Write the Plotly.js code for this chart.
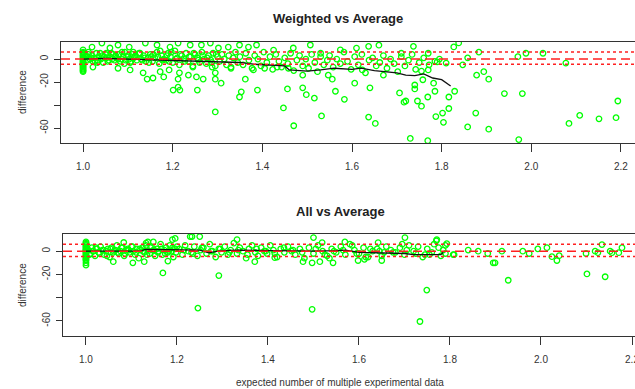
<!DOCTYPE html>
<html><head><meta charset="utf-8">
<script src="https://cdn.plot.ly/plotly-3.0.1.min.js"></script>
<style>html,body{margin:0;padding:0;background:#fff}#chart{width:635px;height:389px}</style>
</head><body><div id="chart"></div>
<script>
// ---------- Weighted vs Average ----------
const wColX = [1,1,1,1,1,1,1,1,1,1,1,1,1,1,1,1,1,1,1,1];
const wColY = [-11,-10,-9,-8,-7,-6,-5,-4.5,-4,-3,-2,-1,0,1,2,3,4,5,6,8];
const wBX = [1.005,1.01,1.012,1.015,1.02,1.022,1.025,1.03,1.033,1.035,1.04,1.043,1.045,1.05,1.053,1.055,1.06,1.063,1.065,1.07,1.073,1.075,1.08,1.083,1.085,1.09,1.093,1.095,1.1,1.103,1.105,1.11,1.113,1.115,1.12,1.125,1.13,1.135,1.14,1.145];
const wBY = [2,-1,4,0,3,-2,1,5,-1,2,0,3,-3,4,1,-2,2,5,0,-1,3,1,4,-2,0,2,6,-1,3,0,-3,4,1,2,-1,5,0,3,-2,1];
const wCX = [1.15,1.155,1.16,1.165,1.17,1.175,1.18,1.185,1.19,1.195,1.2,1.205,1.21,1.215,1.22,1.225,1.23,1.235,1.24,1.245,1.25,1.255,1.26,1.265,1.27,1.275,1.28,1.285,1.29,1.295,1.3,1.305,1.31,1.315,1.32,1.325,1.33,1.335,1.34,1.345];
const wCY = [4,-2,1,6,-4,3,0,-1,5,2,-3,7,1,-5,3,0,5,-2,2,-6,4,1,-3,6,0,-4,3,-1,5,-6,2,-2,4,0,-5,3,-7,1,6,-3];
const wDX = [1.35,1.357,1.363,1.37,1.377,1.383,1.39,1.397,1.403,1.41,1.417,1.423,1.43,1.437,1.443,1.45,1.457,1.463,1.47,1.477,1.483,1.49,1.497,1.503,1.51,1.517,1.523,1.53,1.537,1.545];
const wDY = [2,-5,5,-1,-8,3,0,-6,6,-3,2,-9,4,-2,-7,1,-4,5,-10,-1,3,-6,0,-8,4,-3,-11,2,-5,-1];
const wEX = [1.55,1.558,1.566,1.574,1.582,1.59,1.598,1.606,1.614,1.622,1.63,1.638,1.646,1.654,1.662,1.67,1.678,1.686,1.694,1.702,1.71,1.718,1.726,1.734,1.742,1.75,1.76,1.772,1.785,1.795];
const wEY = [3,-7,0,-4,6,-2,-9,2,-5,4,-12,-1,1,-6,-3,3,-8,0,-4,-11,2,-6,-1,4,-9,-3,1,-5,-2,0];
const wFX = [1.007,1.018,1.027,1.038,1.047,1.058,1.067,1.078,1.087,1.097,1.107,1.117,1.127,1.137,1.147,1.157,1.167,1.177,1.187,1.197,1.207,1.217,1.227,1.237,1.247,1.257,1.267,1.277,1.287,1.297,1.012,1.032,1.052,1.072,1.092,1.112,1.132,1.152,1.172,1.192];
const wFY = [3,1,-2,5,2,-1,4,0,6,2,-2,3,5,1,-3,4,2,-1,3,6,0,4,-2,2,5,-1,3,1,-3,4,6,-3,5,2,-4,6,-1,2,7,-2];
const wUpX = [1.02,1.042,1.06,1.078,1.103,1.139,1.165,1.194,1.212,1.239,1.264,1.284,1.302,1.324,1.349,1.369,1.387,1.425,1.469,1.507,1.53,1.574,1.61,1.637,1.66,1.737,1.827,1.838,1.883,1.71,1.77];
const wUpY = [10.4,13.9,9.6,12.2,10.4,13.9,12.2,10.4,13.9,12.2,12.2,13.9,9.6,10.4,12.2,10.4,12.2,7.8,9.6,12.2,5,8,9.5,11,12,11,10.5,14,6,5,5];
const wLoX = [1.022,1.078,1.105,1.134,1.156,1.143,1.18,1.172,1.192,1.212,1.235,1.245,1.268,1.288,1.295,1.308,1.33,1.362,1.38,1.405,1.433,1.458,1.49,1.215,1.295,1.253];
const wLoY = [-7,-8,-9.5,-12,-16.5,-17.4,-15.6,-11,-9.5,-17.4,-14,-7,-17.4,-7,-12,-21,-8,-17.5,-9.5,-8,-7,-8,-14,-12,-17.5,-15.6];
const wOutX = [1.295,1.47,1.447,1.456,1.49,1.498,1.516,1.201,1.212,1.216,1.255,1.349,1.353,1.389,1.532,1.563,1.583,1.606,1.637,1.652,1.64,1.716,1.72,1.706,1.73,1.74,1.74,1.746,1.755,1.758,1.755,1.769,1.769,1.785,1.782,1.787,1.802,1.804,1.816,1.816,1.829,1.858,1.876,1.905,1.905,1.972,1.94,1.98,2.084,2.108,2.151,2.189,2.193,1.878,1.894,1.847,1.79,1.81,2.077,1.97,1.988,2.026,1.858,1.77,1.556,1.547,1.67,1.623];
const wOutY = [-46,-58,-42.5,-26,-25,-31,-34,-27,-24.5,-27,-27,-33,-28.5,-27,-49.5,-28,-35,-21,-50.5,-56,-25,-37.5,-36.5,-29.5,-69,-26,-22.6,-36.5,-41,-18,-10.5,-33,-71,-28,-21,-50,-47,-55,-43,-33,-28,-59,-47,-61,-17.5,-70,-30,-30,-56,-49,-52,-51,-36.5,-14,-11,-5,-2.5,-3.5,-3.5,2,5,5,1,-9.5,-17.5,-14,-14,-9.5];
const wTrendX = [1.0,1.05,1.1,1.15,1.2,1.25,1.3,1.35,1.38,1.42,1.45,1.46,1.5,1.53,1.56,1.6,1.62,1.65,1.67,1.7,1.72,1.74,1.76,1.78,1.8,1.82];
const wTrendY = [0,0.5,0,-0.5,-1,-1.5,-2.5,-3,-4.5,-5,-6,-9.5,-10.5,-9.5,-8,-9,-8,-10,-11,-12,-14,-14.5,-13,-16.5,-18,-23.5];

// ---------- All vs Average ----------
const aColX = [1,1,1,1,1,1,1,1,1,1,1,1,1,1,1,1,1,1,1,1];
const aColY = [-12,-10,-8,-7,-6,-5,-4,-3,-2,-1,0,0.5,1,2,3,4,5,6,7,8];
const aBX = [1.005,1.01,1.013,1.017,1.02,1.024,1.028,1.032,1.036,1.04,1.044,1.048,1.052,1.056,1.06,1.064,1.068,1.072,1.076,1.08,1.084,1.088,1.092,1.096,1.1,1.104,1.108,1.112,1.116,1.12,1.124,1.128,1.132,1.136,1.14,1.144,1.148,1.152,1.156,1.16,1.164,1.168,1.172,1.176,1.18,1.184,1.188,1.192,1.196,1.2];
const aBY = [1,-2,3,0,-4,2,-1,4,1,-3,0,2,-5,3,-1,1,5,-2,0,3,-4,1,2,-1,4,0,-3,2,-6,1,3,-1,5,0,-2,4,1,-4,2,0,6,-3,1,3,-1,5,0,-5,2,4];
const aCX = [1.205,1.212,1.218,1.225,1.232,1.238,1.245,1.252,1.258,1.265,1.272,1.278,1.285,1.292,1.298,1.305,1.312,1.318,1.325,1.332,1.338,1.345,1.352,1.358,1.365,1.372,1.378,1.385,1.392,1.398,1.405,1.412,1.42,1.428,1.436,1.444,1.452,1.46,1.47,1.48];
const aCY = [2,-3,5,0,-1,4,-4,1,3,-2,6,0,-5,2,-1,4,-3,1,7,-2,3,0,-6,2,5,-1,-4,3,0,-2,5,1,-5,2,-1,4,0,-3,2,-6];
const aDX = [1.49,1.5,1.51,1.52,1.53,1.54,1.55,1.56,1.57,1.58,1.59,1.6,1.61,1.62,1.63,1.64,1.65,1.66,1.67,1.68,1.69,1.7,1.71,1.72,1.725,1.73,1.74,1.75,1.76,1.765,1.775,1.78,1.785,1.79,1.535,1.585,1.615,1.655,1.695,1.745];
const aDY = [3,-2,5,0,-4,2,-1,4,-3,6,1,-2,3,-5,0,2,-4,4,1,-1,3,-3,5,0,-2,4,-5,2,-1,6,3,-4,1,-2,-6,5,-5,-1,6,-3];
const aEX = [1.003,1.008,1.015,1.022,1.03,1.038,1.046,1.054,1.062,1.07,1.078,1.086,1.094,1.102,1.11,1.118,1.126,1.134,1.142,1.15,1.158,1.166,1.174,1.182,1.19,1.198,1.215,1.235,1.255,1.275,1.295,1.315,1.335,1.355,1.375,1.395,1.415,1.435,1.455,1.475,1.505,1.525,1.545,1.565,1.595,1.625,1.645,1.675,1.705,1.755];
const aEY = [2,-3,0,3,-2,1,-4,2,0,-1,3,-2,1,4,-1,2,0,-3,3,1,-1,2,-2,0,3,-1,1,-2,3,0,2,-1,1,-3,2,0,-2,3,1,-1,2,-3,0,1,-2,2,0,-1,1,-3];
const aOutX = [1.06,1.083,1.103,1.128,1.132,1.136,1.148,1.18,1.169,1.246,1.292,1.497,1.497,1.332,1.233,1.25,1.19,1.5,1.196,1.229,1.371,1.415,1.477,1.514,1.543,1.569,1.519,1.598,1.612,1.65,1.642,1.701,1.771,1.793,1.749,1.734,1.895,1.899,1.928,1.914,1.96,1.974,1.993,2.013,2.024,2.035,2.04,2.099,2.101,2.119,2.125,2.134,2.141,2.152,2.156,2.171,2.178,1.862,1.84,1.883,1.809,1.807,1.79,1.77];
const aOutY = [-9,7.5,-10,-9,7,8,8,-8.5,-18.7,-49,-21,-50,-10,10,12.6,12.6,10,11.7,11,12.6,-9,-5.6,-9,-9,-10,8,7.4,-8,-7,-8,7.4,11.7,10,6.5,-33.5,-60.5,-10,-10,-25,0,0,-2,2,3,-4.7,-8,-3.9,-2,-19.6,0,-1.3,5.7,-22,0,-1.3,-1.3,3,0,1,-2,-3,-3,5,9];
const aTrendX = [1.0,1.12,1.13,1.2,1.25,1.27,1.29,1.33,1.4,1.5,1.55,1.57,1.6,1.65,1.7,1.72,1.78,1.785];
const aTrendY = [0,0,1.5,1.5,1,-1.5,0,1,0.5,0,0.5,1,-1,-1.5,-2,-3,-3,-1];

// reference lines (mean and limits)
const refMean = 0, refUpper = 6, refLower = -4.5;
const xTicks = [1.0,1.2,1.4,1.6,1.8,2.0,2.2];
const xTickText = ['1.0','1.2','1.4','1.6','1.8','2.0','2.2'];
const yTicks = [0,-20,-40,-60];
const yTickText = ['0','-20','','-60'];

const W = 635, H = 389;
const px = v => v / W, py = v => 1 - v / H;

const green = '#00FF00';
function pts(x, y, xa, ya) {
  return {x, y, xaxis: xa, yaxis: ya, type: 'scatter', mode: 'markers', hoverinfo: 'skip',
    marker: {symbol: 'circle-open', size: 5.5, color: green, line: {width: 1.3, color: green}}};
}
const traces = [
  pts([].concat(wColX,wBX,wCX,wDX,wEX,wFX,wUpX,wLoX,wOutX), [].concat(wColY,wBY,wCY,wDY,wEY,wFY,wUpY,wLoY,wOutY), 'x', 'y'),
  {x: wTrendX, y: wTrendY, xaxis: 'x', yaxis: 'y', type: 'scatter', mode: 'lines', line: {color: '#111', width: 1.3}},
  pts([].concat(aColX,aBX,aCX,aDX,aEX,aOutX), [].concat(aColY,aBY,aCY,aDY,aEY,aOutY), 'x2', 'y2'),
  {x: aTrendX, y: aTrendY, xaxis: 'x2', yaxis: 'y2', type: 'scatter', mode: 'lines', line: {color: '#111', width: 1.3}}
];

const tickFont = {family: 'Liberation Sans, Arial, sans-serif', size: 10, color: '#333'};
function xax(dom, range, anchor) {
  return {domain: dom, range, anchor, tickvals: xTicks, ticktext: xTickText, ticks: 'outside', ticklen: 8,
    tickcolor: '#333', tickwidth: 1, showgrid: false, zeroline: false, showline: true, mirror: true,
    linecolor: '#333', linewidth: 1.3, tickfont: tickFont, ticklabelstandoff: 6, ticklabeloverflow: 'allow'};
}
function yax(dom, anchor) {
  return {domain: dom, range: [-73, 14.8], anchor, tickvals: yTicks, ticktext: yTickText, ticks: 'outside', ticklen: 6,
    tickcolor: '#333', tickangle: -90, showgrid: false, zeroline: false, showline: true, mirror: true,
    linecolor: '#333', linewidth: 1.3, tickfont: tickFont, ticklabelstandoff: 2};
}
function refShapes(xr, yr) {
  const base = {type: 'line', xref: xr + ' domain', yref: yr, x0: 0, x1: 1, layer: 'above'};
  return [
    Object.assign({}, base, {y0: refMean, y1: refMean, line: {color: '#FF2020', width: 1.5, dash: '9px,5px'}}),
    Object.assign({}, base, {y0: refUpper, y1: refUpper, line: {color: '#FF2020', width: 1.5, dash: 'dot'}}),
    Object.assign({}, base, {y0: refLower, y1: refLower, line: {color: '#FF2020', width: 1.5, dash: 'dot'}})
  ];
}
const titleFont = {family: 'Liberation Sans, Arial, sans-serif', size: 13, color: '#222', weight: 'bold'};
const labFont = {family: 'Liberation Sans, Arial, sans-serif', size: 10, color: '#333'};
const layout = {
  width: W, height: H, margin: {l: 0, r: 0, t: 0, b: 0}, showlegend: false,
  paper_bgcolor: '#fff', plot_bgcolor: '#fff',
  xaxis: xax([px(61), 1], [0.9508, 2.2313], 'y'),
  yaxis: yax([py(143), py(42)], 'x'),
  xaxis2: xax([px(63), 1], [0.9495, 2.2066], 'y2'),
  yaxis2: yax([py(336), py(234)], 'x2'),
  shapes: refShapes('x', 'y').concat(refShapes('x2', 'y2')),
  annotations: [
    {text: '<b>Weighted vs Average</b>', xref: 'paper', yref: 'paper', x: px(338), y: py(18), showarrow: false, font: titleFont, xanchor: 'center', yanchor: 'middle'},
    {text: '<b>All vs Average</b>', xref: 'paper', yref: 'paper', x: px(340), y: py(212), showarrow: false, font: titleFont, xanchor: 'center', yanchor: 'middle'},
    {text: 'difference', xref: 'paper', yref: 'paper', x: px(22), y: py(92), showarrow: false, textangle: -90, font: labFont, xanchor: 'center', yanchor: 'middle'},
    {text: 'difference', xref: 'paper', yref: 'paper', x: px(22), y: py(285), showarrow: false, textangle: -90, font: labFont, xanchor: 'center', yanchor: 'middle'},
    {text: 'expected number of multiple experimental data', xref: 'paper', yref: 'paper', x: px(340), y: py(382), showarrow: false, font: labFont, xanchor: 'center', yanchor: 'middle'}
  ]
};
Plotly.newPlot('chart', traces, layout, {staticPlot: true, displayModeBar: false});
</script></body></html>
